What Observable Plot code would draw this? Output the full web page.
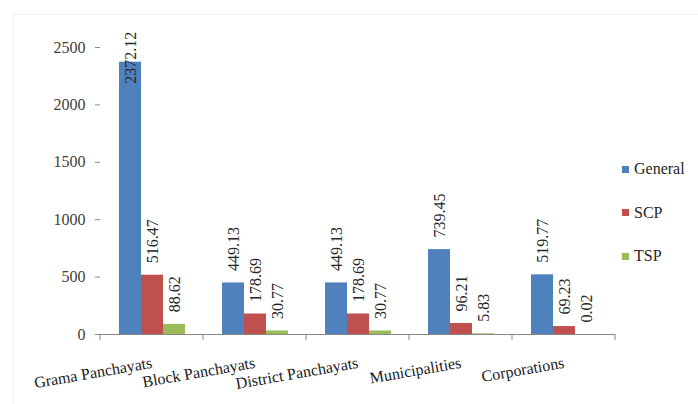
<!DOCTYPE html>
<html>
<head>
<meta charset="utf-8">
<script src="https://cdn.jsdelivr.net/npm/d3@7"></script>
<script src="https://cdn.jsdelivr.net/npm/@observablehq/plot@0.6"></script>
<style>
  body { margin: 0; background: #fff; }
  #wrap { position: relative; width: 698px; height: 404px; overflow: hidden; font-family: "Liberation Serif", serif; }
  #frame { position: absolute; left: 13px; top: 14px; right: -2px; bottom: -2px; border-left: 1px solid #efefef; border-top: 1px solid #efefef; }
  #chart { position: absolute; left: 0; top: 0; }
  #legend { position: absolute; left: 622px; top: 158px; font-size: 16px; color: #262626; }
  #legend .item { display: flex; align-items: center; height: 22px; margin-bottom: 21.5px; }
  #legend .sw { width: 7px; height: 7px; margin-right: 5px; }
</style>
</head>
<body>
<div id="wrap">
  <div id="frame"></div>
  <div id="chart"></div>
  <div id="legend"></div>
</div>
<script>
// Local body categories and allocation by sub-plan
const categories = ["Grama Panchayats", "Block Panchayats", "District Panchayats", "Municipalities", "Corporations"];
const series = ["General", "SCP", "TSP"];
const general = [2372.12, 449.13, 449.13, 739.45, 519.77];
const scp = [516.47, 178.69, 178.69, 96.21, 69.23];
const tsp = [88.62, 30.77, 30.77, 5.83, 0.02];
const colors = ["#4F81BD", "#C0504D", "#9BBB59"];
const yTicks = [0, 500, 1000, 1500, 2000, 2500];

const seriesValues = [general, scp, tsp];
const rows = categories.flatMap((c, i) =>
  series.map((s, j) => ({category: c, series: s, value: seriesValues[j][i]}))
);

// Labels that would run past the top of the plot are held down inside it
const labelCap = 2080;

const plot = Plot.plot({
  width: 698,
  height: 404,
  marginLeft: 99,
  marginRight: 82,
  marginTop: 47,
  marginBottom: 70,
  style: {fontFamily: "'Liberation Serif', serif", fontSize: "16px", background: "transparent", color: "#404040"},
  fx: {domain: categories, padding: 0, label: null},
  x: {domain: series, paddingInner: 0, paddingOuter: 0.75, axis: null},
  y: {domain: [0, 2500], label: null},
  color: {domain: series, range: colors},
  marks: [
    Plot.barY(rows, {fx: "category", x: "series", y: "value", fill: "series"}),
    Plot.text(rows, {
      fx: "category", x: "series",
      y: d => Math.min(d.value, labelCap),
      text: d => d.value.toFixed(2),
      rotate: -90, textAnchor: "start", dy: -12,
      fontSize: 16, letterSpacing: "1px", fill: "#262626"
    }),
    Plot.ruleY([0], {stroke: "#898989"}),
    Plot.axisY({ticks: yTicks, tickFormat: d => String(d), tickSize: 5, tickPadding: 10, stroke: "#898989", fill: "#404040", line: true, label: null, fontSize: 16}),
    Plot.axisFx({anchor: "bottom", tickSize: 0, tickPadding: 28, tickRotate: -10, fill: "#1a1a1a", label: null, fontSize: 16})
  ]
});

document.getElementById("chart").appendChild(plot);

// Category boundary ticks along the x axis
const fx = plot.scale("fx");
const svg = d3.select(plot);
const y0 = plot.scale("y").apply(0);
const edges = categories.map(c => fx.apply(c)).concat([fx.apply(categories[categories.length - 1]) + fx.bandwidth]);
svg.append("g")
  .selectAll("line")
  .data(edges)
  .join("line")
  .attr("x1", d => d).attr("x2", d => d)
  .attr("y1", y0).attr("y2", y0 + 6)
  .attr("stroke", "#898989");

// Legend
const legend = d3.select("#legend");
series.forEach((s, i) => {
  const item = legend.append("div").attr("class", "item");
  item.append("div").attr("class", "sw").style("background", colors[i]);
  item.append("span").text(s);
});
</script>
</body>
</html>
